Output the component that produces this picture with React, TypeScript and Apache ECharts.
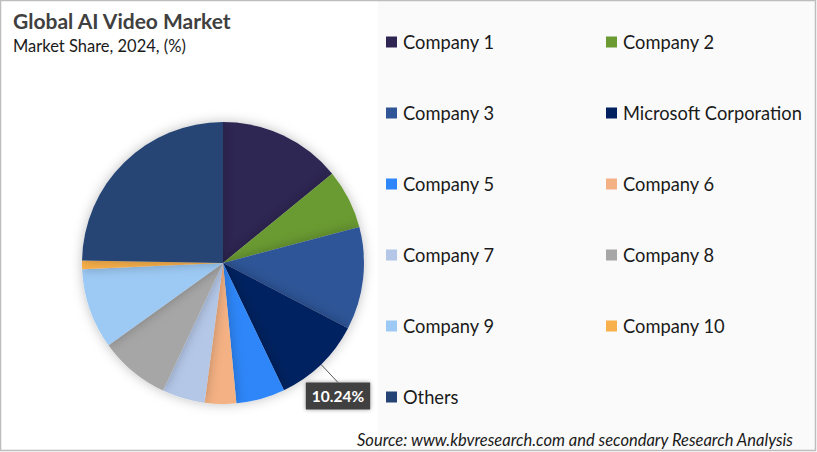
import React, { useEffect, useRef } from "react";
import * as echarts from "echarts";

const companies = [
  "Company 1",
  "Company 2",
  "Company 3",
  "Microsoft Corporation",
  "Company 5",
  "Company 6",
  "Company 7",
  "Company 8",
  "Company 9",
  "Company 10",
  "Others",
];
const shares = [14.1, 6.8, 11.75, 10.24, 5.6, 3.6, 4.9, 8.1, 9.2, 1.0, 24.71];
const colors = [
  "#2E2552",
  "#6A9A31",
  "#2F5597",
  "#002060",
  "#2E86F8",
  "#F4B183",
  "#B4C7E7",
  "#A6A6A6",
  "#9DCAF5",
  "#F8B04C",
  "#254475",
];
const labelledCompany = "Microsoft Corporation";

const title = "Global AI Video Market";
const subtitle = "Market Share, 2024, (%)";
const source = "Source: www.kbvresearch.com and secondary Research Analysis";

export default function App() {
  const ref = useRef<HTMLDivElement>(null);
  useEffect(() => {
    if (!ref.current) return;
    const chart = echarts.init(ref.current, undefined, { renderer: "svg" });
    const font = "Lato, 'Open Sans', sans-serif";
    chart.setOption({
      animation: false,
      backgroundColor: "#ffffff",
      textStyle: { fontFamily: font },
      graphic: [
        {
          type: "rect",
          silent: true,
          z: -10,
          shape: { x: 378, y: 1, width: 437, height: 449 },
          style: { fill: "#FAFAFA" },
        },
        {
          type: "rect",
          silent: true,
          z: 100,
          shape: { x: 0.5, y: 0.5, width: 815, height: 450 },
          style: { fill: "none", stroke: "#BDBDBD", lineWidth: 1.5 },
        },
      ],
      title: [
        {
          text: title,
          left: 13,
          top: 10,
          padding: 0,
          textStyle: { fontFamily: font, fontSize: 21, fontWeight: "bold", color: "#404040" },
        },
        {
          text: subtitle,
          left: 13,
          top: 37,
          padding: 0,
          textStyle: { fontFamily: font, fontSize: 16.5, fontWeight: "normal", color: "#1a1a1a" },
        },
        {
          text: source,
          left: 357,
          top: 431,
          padding: 0,
          textStyle: { fontFamily: font, fontSize: 16.5, fontStyle: "italic", fontWeight: "normal", color: "#1a1a1a" },
        },
      ],
      legend: {
        orient: "horizontal",
        left: 386,
        top: 18,
        width: 430,
        itemWidth: 11,
        itemHeight: 11,
        itemGap: 23,
        icon: "rect",
        padding: 0,
        selectedMode: false,
        data: companies,
        textStyle: {
          fontFamily: font,
          fontSize: 18.3,
          color: "#1a1a1a",
          width: 180,
          lineHeight: 48,
          padding: [0, 0, 0, 1],
        },
      },
      series: [
        {
          type: "pie",
          center: [223, 263],
          radius: [0, 141],
          startAngle: 90,
          clockwise: true,
          avoidLabelOverlap: false,
          itemStyle: {
            shadowBlur: 12,
            shadowColor: "rgba(0,0,0,0.25)",
          },
          label: { show: false },
          labelLine: { show: false },
          labelLayout: (params: any) => {
            if (params.dataIndex !== companies.indexOf(labelledCompany)) return {};
            return { x: 338, y: 396, align: "center", verticalAlign: "middle" };
          },
          data: companies.map((name, i) => {
            const item: any = {
              name,
              value: shares[i],
              itemStyle: { color: colors[i] },
            };
            if (name === labelledCompany) {
              item.label = {
                show: true,
                position: "outside",
                formatter: (p: any) => p.value.toFixed(2) + "%",
                fontFamily: font,
                fontSize: 15.5,
                fontWeight: "bold",
                color: "#ffffff",
                backgroundColor: "#404040",
                padding: [6, 6, 5, 6],
                shadowBlur: 4,
                shadowColor: "rgba(0,0,0,0.4)",
              };
              item.labelLine = {
                show: true,
                length: 10,
                length2: 0,
                lineStyle: { color: "#595959", width: 1 },
              };
            }
            return item;
          }),
        },
      ],
    });
    return () => chart.dispose();
  }, []);
  return (
    <div
      ref={ref}
      style={{ position: "absolute", left: 0, top: 0, width: 817, height: 452 }}
    />
  );
}
